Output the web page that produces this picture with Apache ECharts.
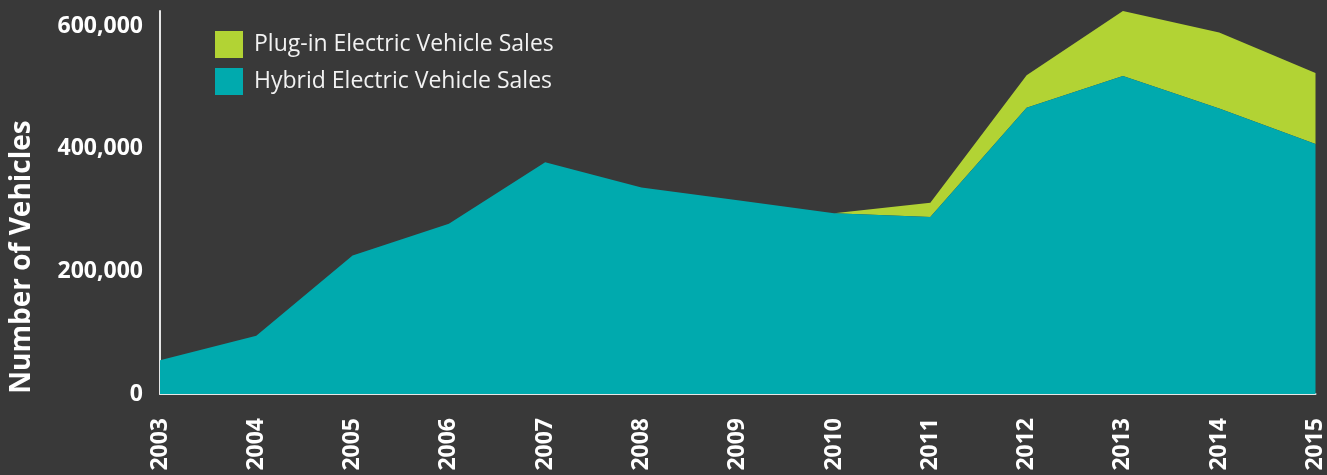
<!DOCTYPE html>
<html>
<head>
<meta charset="utf-8">
<title>Hybrid and Plug-in Electric Vehicle Sales</title>
<script src="https://cdn.jsdelivr.net/npm/echarts@6/dist/echarts.min.js"></script>
<style>
    html, body {
        margin: 0;
        padding: 0;
        background: #393939;
    }
    #chart {
        width: 1327px;
        height: 475px;
    }
</style>
</head>
<body>
<div id="chart"></div>
<script>
    // years on the x axis
    var years = ['2003', '2004', '2005', '2006', '2007', '2008', '2009',
                 '2010', '2011', '2012', '2013', '2014', '2015'];

    // hybrid electric vehicle sales (bottom layer)
    var hybridSales = [55000, 95000, 226000, 278000, 378000, 337000, 316000,
                       295000, 289000, 467000, 519000, 466000, 408000];

    // plug-in electric vehicle sales (stacked on top)
    var pluginSales = [0, 0, 0, 0, 0, 0, 0,
                       0, 23000, 53000, 106000, 124000, 116000];

    var yTicks = [0, 200000, 400000, 600000];

    var font = '"Open Sans", "Noto Sans", sans-serif';

    var chart = echarts.init(document.getElementById('chart'));

    var option = {
        backgroundColor: '#393939',
        animation: false,
        textStyle: { fontFamily: font },
        grid: {
            left: 160,
            right: 10,
            top: 11,
            bottom: 81
        },
        legend: {
            orient: 'vertical',
            left: 210,
            top: 26,
            itemWidth: 28,
            itemHeight: 27,
            itemGap: 10,
            icon: 'rect',
            data: ['Plug-in Electric Vehicle Sales', 'Hybrid Electric Vehicle Sales'],
            textStyle: {
                color: '#f2f2f2',
                fontSize: 23,
                fontFamily: font,
                padding: [0, 0, 0, 6]
            }
        },
        graphic: [{
            type: 'text',
            x: 22,
            y: 257,
            rotation: Math.PI / 2,
            style: {
                text: 'Number of Vehicles',
                fill: '#ffffff',
                font: 'bold 28px ' + font,
                textAlign: 'center',
                textVerticalAlign: 'middle'
            }
        }],
        xAxis: {
            type: 'category',
            data: years,
            boundaryGap: false,
            axisLine: { lineStyle: { color: '#e6e6e6', width: 2 } },
            axisTick: { show: false },
            axisLabel: {
                rotate: 90,
                interval: 0,
                margin: 24,
                color: '#ffffff',
                fontWeight: 'bold',
                fontSize: 23,
                fontFamily: font
            },
            splitLine: { show: false }
        },
        yAxis: {
            type: 'value',
            min: 0,
            max: 625000,
            interval: 200000,
            axisLine: { show: true, lineStyle: { color: '#e6e6e6', width: 2 } },
            axisTick: { show: false },
            splitLine: { show: false },
            axisLabel: {
                margin: 17,
                showMaxLabel: false,
                color: '#ffffff',
                fontWeight: 'bold',
                fontSize: 23,
                fontFamily: font,
                formatter: function (v) {
                    return yTicks.indexOf(v) >= 0 ? v.toLocaleString('en-US') : '';
                }
            }
        },
        series: [
            {
                name: 'Hybrid Electric Vehicle Sales',
                type: 'line',
                stack: 'sales',
                data: hybridSales,
                symbol: 'none',
                lineStyle: { width: 0 },
                areaStyle: { color: '#00aaae', opacity: 1 },
                itemStyle: { color: '#00aaae' },
                z: 2
            },
            {
                name: 'Plug-in Electric Vehicle Sales',
                type: 'line',
                stack: 'sales',
                data: pluginSales,
                symbol: 'none',
                lineStyle: { width: 0 },
                areaStyle: { color: '#b2d334', opacity: 1 },
                itemStyle: { color: '#b2d334' },
                z: 1
            }
        ]
    };

    chart.setOption(option);
</script>
</body>
</html>
